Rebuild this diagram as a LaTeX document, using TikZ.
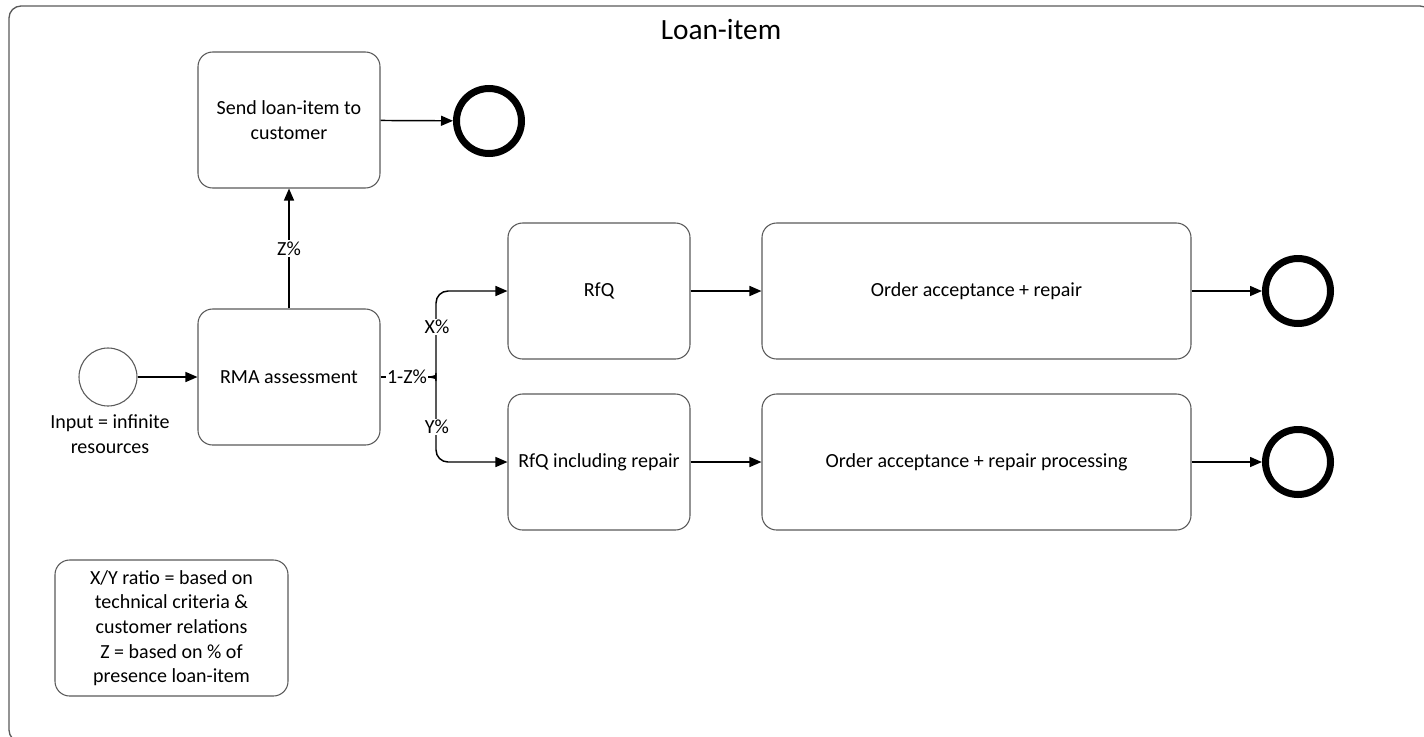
\documentclass[tikz,border=0pt]{standalone}
\usepackage{fontspec}
\setmainfont{Carlito}
\usetikzlibrary{arrows.meta}

\begin{document}
\begin{tikzpicture}[x=0.75pt,y=-0.75pt,
  txt/.style={font=\fontsize{15}{18.5}\selectfont, align=center, text=black},
  task/.style={txt, draw=black!65, line width=0.8pt, rounded corners=11pt,
    minimum width=136.5pt, minimum height=102pt, inner sep=0pt},
  widetask/.style={task, minimum width=321.75pt},
  startev/.style={circle, draw=black!65, line width=0.8pt, minimum size=43.5pt, inner sep=0pt},
  endev/.style={circle, draw=black, line width=5.25pt, minimum size=48.75pt, inner sep=0pt},
  flow/.style={draw=black, line width=1.1pt, -{Triangle[length=9pt,width=7.5pt]}},
  plainflow/.style={draw=black, line width=1.1pt},
  lbl/.style={txt, fill=white, inner sep=1pt},
]
\useasboundingbox (0,0) rectangle (1424,736);
\clip (0,0) rectangle (1424,736);

% pool frame and title
\draw[black!65, line width=1pt, rounded corners=9pt] (9,6) rectangle (1432,742);
\node[font=\fontsize{22}{26}\selectfont] (title) at (721,30) {Loan-item};

% events
\node[startev] (start) at (108,377) {};
\node[txt, anchor=north] (inputlbl) at (110,410) {Input = infinite\\resources};
\node[endev] (end1) at (489,121) {};
\node[endev] (end2) at (1298,291) {};
\node[endev] (end3) at (1298,462) {};

% tasks
\node[task] (send) at (289,120) {Send loan-item to\\customer};
\node[task] (rma) at (289,377) {RMA assessment};
\node[task] (rfq) at (599,291) {RfQ};
\node[task] (rfqr) at (599,462) {RfQ including repair};
\node[widetask] (oa) at (976.5,291) {Order acceptance + repair};
\node[widetask] (oar) at (976.5,462) {Order acceptance + repair processing};

% annotation
\node[task, minimum width=174.75pt] (note) at (171.5,628)
  {X/Y ratio = based on\\technical criteria \&\\customer relations\\Z = based on \% of\\presence loan-item};

% sequence flows
\draw[flow] (start) -- (rma);
\draw[flow] (send) -- (end1);
\draw[flow] (rma) -- (send) node[lbl, pos=0.5] (zlbl) {Z\%};
\draw[flow] (rfq) -- (oa);
\draw[flow] (oa) -- (end2);
\draw[flow] (rfqr) -- (oar);
\draw[flow] (oar) -- (end3);

% split after the assessment
\coordinate (fork) at (430,377);
\draw[plainflow] (rma.east) -- (fork);
\draw[flow, rounded corners=9pt] (fork) to[out=0,in=-90] (436,369) |- (rfq.west);
\draw[flow, rounded corners=9pt] (fork) to[out=0,in=90] (436,385) |- (rfqr.west);
\node[lbl] (notz) at (407,377) {1-Z\%};
\node[lbl] (xlbl) at (437,327) {X\%};
\node[lbl] (ylbl) at (437,427) {Y\%};
\end{tikzpicture}
\end{document}
